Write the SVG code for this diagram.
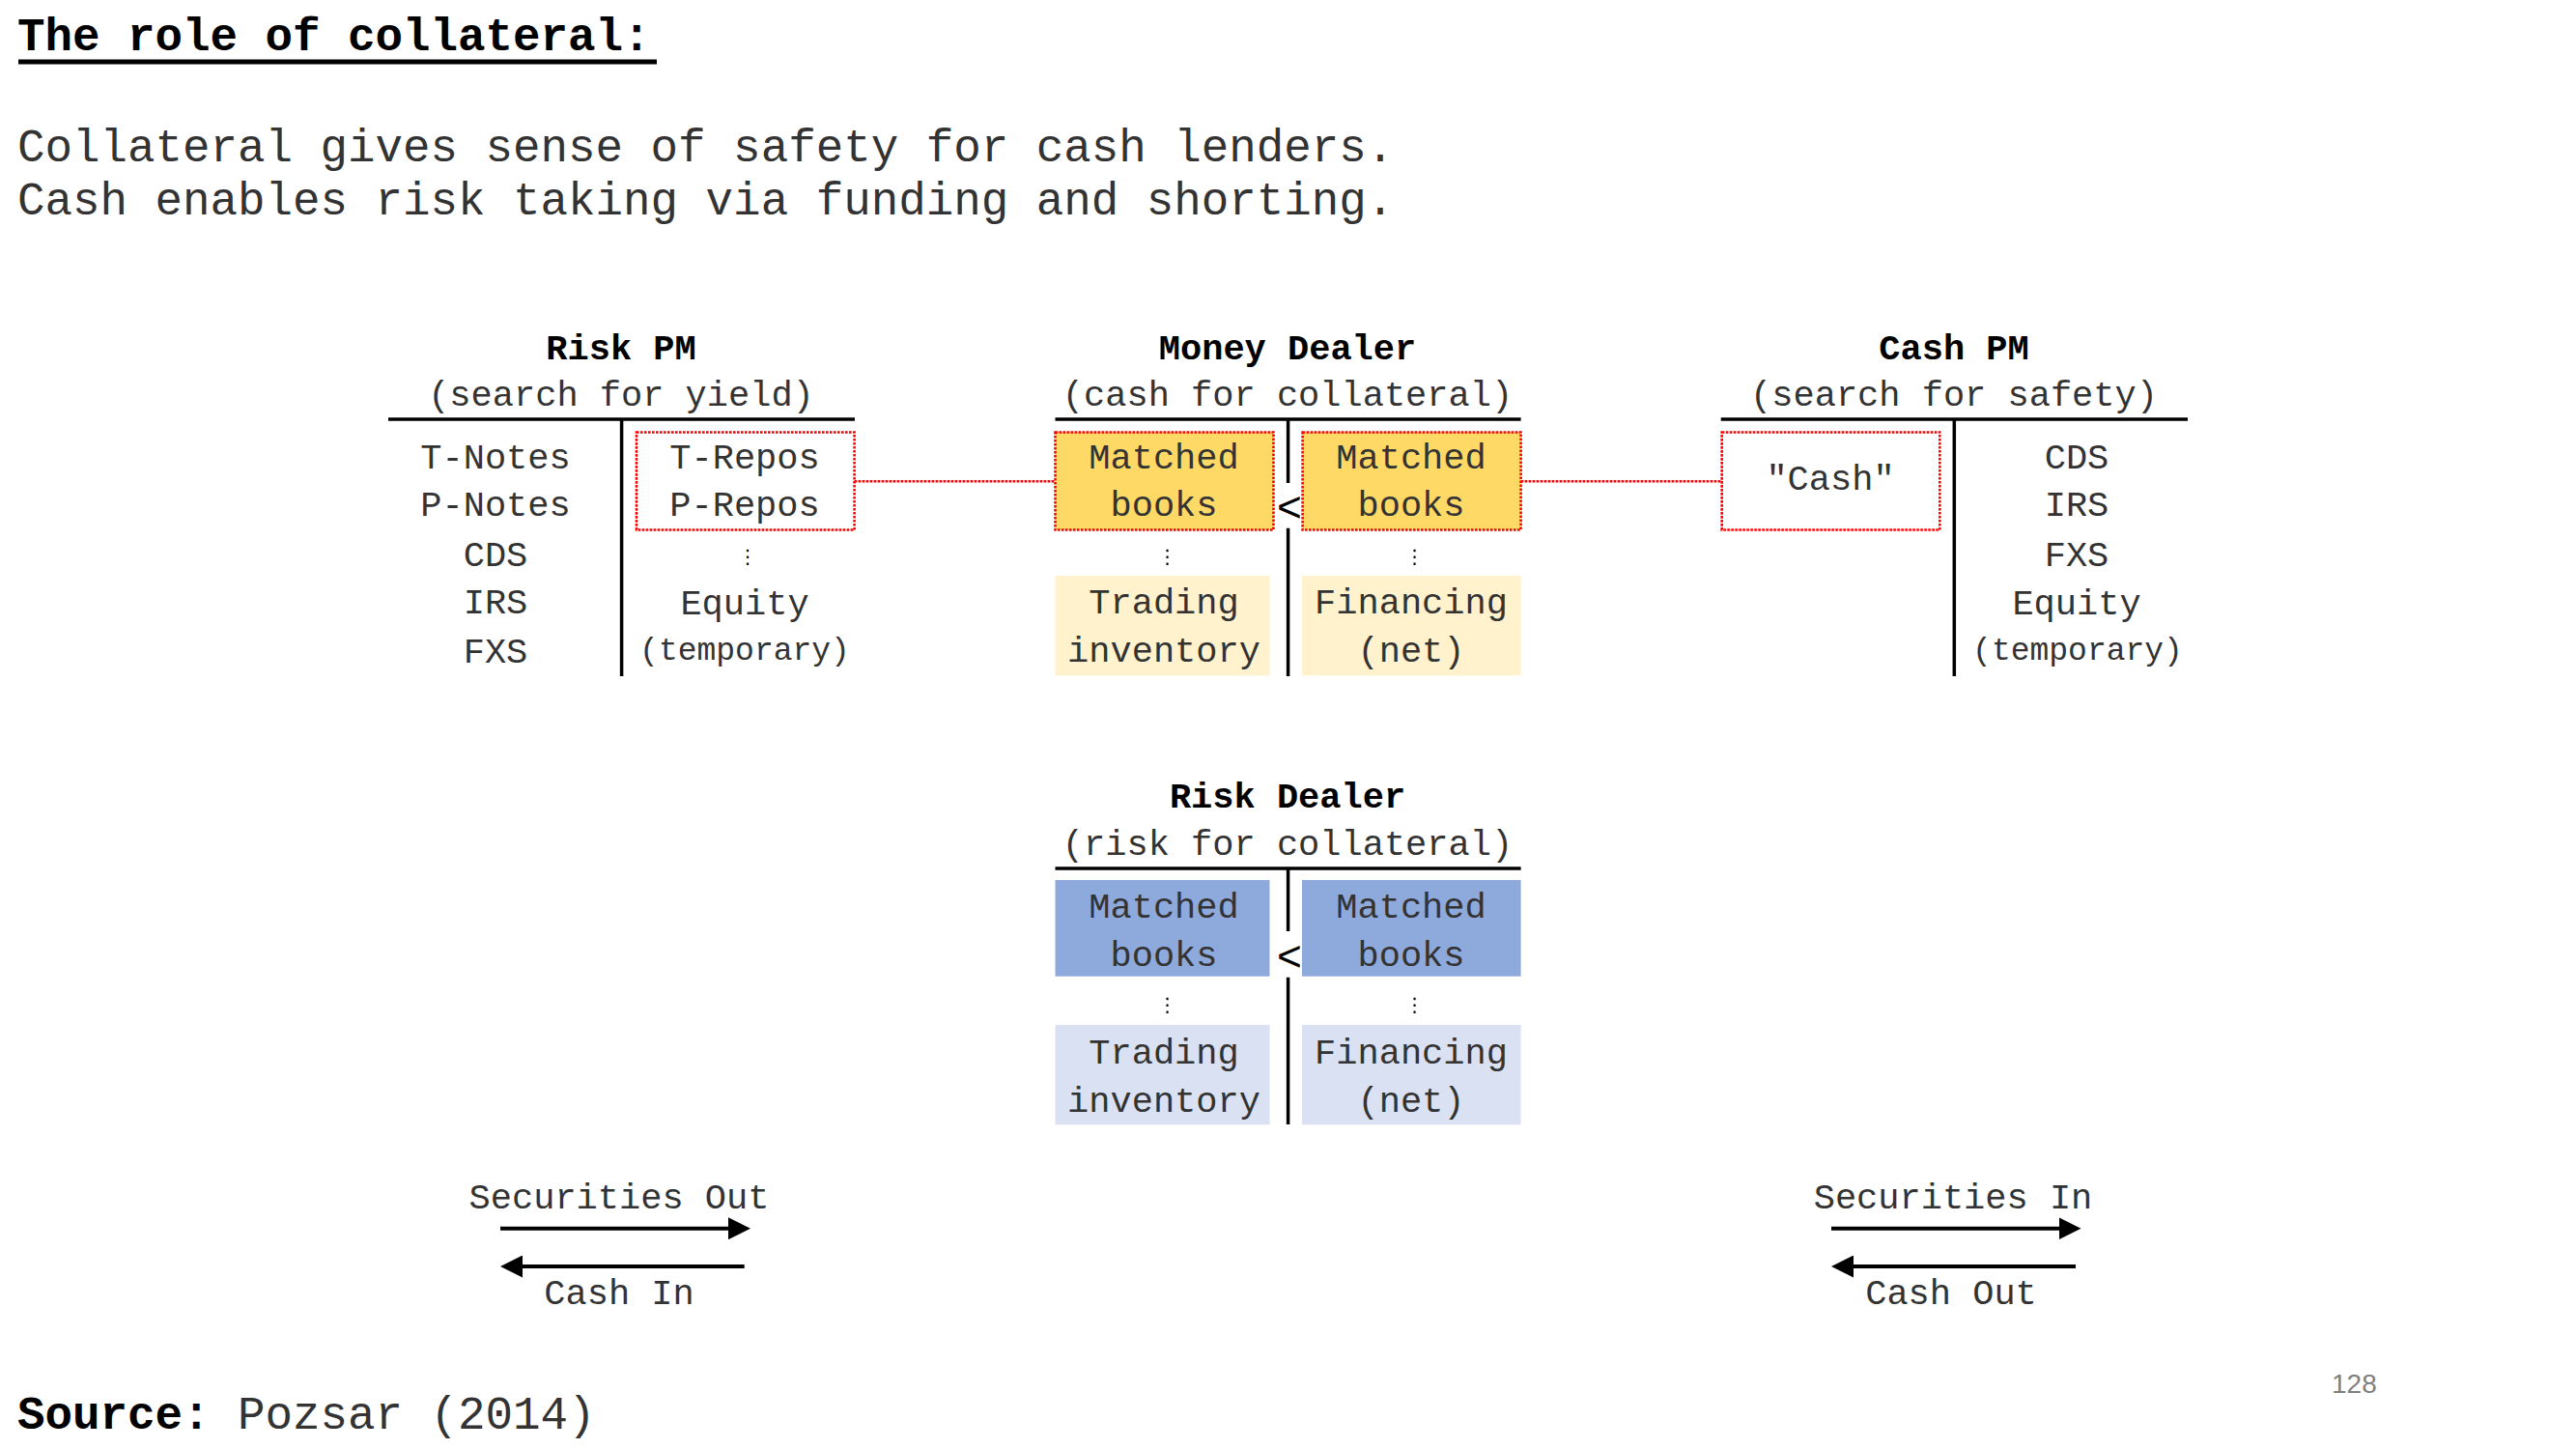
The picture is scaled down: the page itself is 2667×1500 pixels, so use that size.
<svg xmlns="http://www.w3.org/2000/svg" width="2667" height="1500" viewBox="0 0 2667 1500">
<defs>
<style>
text{font-family:"Liberation Mono","DejaVu Sans Mono",monospace;fill:#333}
.big{font-size:47.5px}
.b{font-weight:bold;fill:#000}
.t{font-size:37px;text-anchor:middle}
.sm{font-size:33px;text-anchor:middle}
.lt{font-size:44px;text-anchor:middle;fill:#000}
.dots{font-family:"DejaVu Sans","DejaVu Sans Mono",sans-serif;font-size:20px;text-anchor:middle;fill:#000}
.rule{stroke:#000;stroke-width:3.5;fill:none}
.red{stroke:#ff0000;stroke-width:2.6;stroke-dasharray:2.6 1.4;fill:none}
.arr{stroke:#000;stroke-width:4;fill:none;marker-end:url(#head)}
.gold{fill:#FFD966}
.lgold{fill:#FFF2CC}
.blue{fill:#8EA9DB}
.lblue{fill:#D9E1F2}
</style>
<marker id="head" viewBox="0 0 23 23" refX="1" refY="11.5" markerWidth="23" markerHeight="23" markerUnits="userSpaceOnUse" orient="auto">
<path d="M0,0 L23,11.5 L0,23 z" fill="#000"/>
</marker>
</defs>
<rect width="2667" height="1500" fill="#fff"/>

<g id="header">
<text class="big b" x="18" y="52">The role of collateral:</text>
<line x1="19" y1="64" x2="680" y2="64" stroke="#000" stroke-width="5"/>
<text class="big" x="18" y="167">Collateral gives sense of safety for cash lenders.</text>
<text class="big" x="18" y="222">Cash enables risk taking via funding and shorting.</text>
</g>

<g id="risk-pm">
<text class="t b" x="643" y="372">Risk PM</text>
<text class="t" x="643" y="420">(search for yield)</text>
<line class="rule" x1="402" y1="434" x2="885" y2="434"/>
<line class="rule" x1="643.6" y1="434" x2="643.6" y2="700"/>
<text class="t" x="513" y="485">T-Notes</text>
<text class="t" x="513" y="534">P-Notes</text>
<text class="t" x="513" y="586">CDS</text>
<text class="t" x="513" y="635">IRS</text>
<text class="t" x="513" y="686">FXS</text>
<rect class="red" x="659" y="447.5" width="225.6" height="101"/>
<text class="t" x="771" y="485">T-Repos</text>
<text class="t" x="771" y="534">P-Repos</text>
<text class="dots" x="774" y="583">⋮</text>
<text class="t" x="771" y="636">Equity</text>
<text class="sm" x="771" y="683">(temporary)</text>
</g>

<g id="money-dealer">
<text class="t b" x="1333" y="372">Money Dealer</text>
<text class="t" x="1333" y="420">(cash for collateral)</text>
<line class="rule" x1="1092.5" y1="434" x2="1574.6" y2="434"/>
<line class="rule" x1="1333.6" y1="434" x2="1333.6" y2="500"/>
<line class="rule" x1="1333.6" y1="546.7" x2="1333.6" y2="700"/>
<rect class="gold" x="1092.5" y="447.5" width="226" height="101"/>
<rect class="red" x="1092.5" y="447.5" width="226" height="101"/>
<rect class="gold" x="1348.6" y="447.5" width="226" height="101"/>
<rect class="red" x="1348.6" y="447.5" width="226" height="101"/>
<text class="t" x="1205" y="485">Matched</text>
<text class="t" x="1205" y="534">books</text>
<text class="t" x="1461" y="485">Matched</text>
<text class="t" x="1461" y="534">books</text>
<text class="lt" x="1335" y="540">&lt;</text>
<text class="dots" x="1208.6" y="583">⋮</text>
<text class="dots" x="1464.6" y="583">⋮</text>
<rect class="lgold" x="1092.5" y="596" width="222" height="103.3"/>
<rect class="lgold" x="1348" y="596" width="226.6" height="103.3"/>
<text class="t" x="1205" y="635">Trading</text>
<text class="t" x="1205" y="685">inventory</text>
<text class="t" x="1461" y="635">Financing</text>
<text class="t" x="1461" y="685">(net)</text>
</g>

<g id="cash-pm">
<text class="t b" x="2023" y="372">Cash PM</text>
<text class="t" x="2023" y="420">(search for safety)</text>
<line class="rule" x1="1781.7" y1="434" x2="2265" y2="434"/>
<line class="rule" x1="2023.3" y1="434" x2="2023.3" y2="700"/>
<rect class="red" x="1782.7" y="447.5" width="225.6" height="101"/>
<text class="t" x="1895" y="507">"Cash"</text>
<text class="t" x="2150" y="485">CDS</text>
<text class="t" x="2150" y="534">IRS</text>
<text class="t" x="2150" y="586">FXS</text>
<text class="t" x="2150" y="636">Equity</text>
<text class="sm" x="2151" y="683">(temporary)</text>
</g>

<g id="risk-dealer">
<text class="t b" x="1333" y="836">Risk Dealer</text>
<text class="t" x="1333" y="885">(risk for collateral)</text>
<line class="rule" x1="1092.5" y1="899" x2="1574.6" y2="899"/>
<line class="rule" x1="1333.6" y1="899" x2="1333.6" y2="964"/>
<line class="rule" x1="1333.6" y1="1011.7" x2="1333.6" y2="1164"/>
<rect class="blue" x="1092.5" y="911" width="222" height="99.7"/>
<rect class="blue" x="1348" y="911" width="226.6" height="99.7"/>
<text class="t" x="1205" y="950">Matched</text>
<text class="t" x="1205" y="1000">books</text>
<text class="t" x="1461" y="950">Matched</text>
<text class="t" x="1461" y="1000">books</text>
<text class="lt" x="1335" y="1005">&lt;</text>
<text class="dots" x="1208.6" y="1047">⋮</text>
<text class="dots" x="1464.6" y="1047">⋮</text>
<rect class="lblue" x="1092.5" y="1061" width="222" height="103.3"/>
<rect class="lblue" x="1348" y="1061" width="226.6" height="103.3"/>
<text class="t" x="1205" y="1101">Trading</text>
<text class="t" x="1205" y="1151">inventory</text>
<text class="t" x="1461" y="1101">Financing</text>
<text class="t" x="1461" y="1151">(net)</text>
</g>

<g id="flow-labels">
<text class="t" x="641" y="1251">Securities Out</text>
<text class="t" x="641" y="1350">Cash In</text>
<text class="t" x="2022" y="1251">Securities In</text>
<text class="t" x="2020" y="1350">Cash Out</text>
</g>

<g id="connectors">
<line class="red" x1="884.6" y1="498.3" x2="1092.5" y2="498.3"/>
<line class="red" x1="1574.6" y1="498.3" x2="1782.7" y2="498.3"/>
<line class="arr" x1="518" y1="1271.7" x2="755" y2="1271.7"/>
<line class="arr" x1="770.7" y1="1311" x2="540" y2="1311"/>
<line class="arr" x1="1896" y1="1271.7" x2="2132.5" y2="1271.7"/>
<line class="arr" x1="2149" y1="1311" x2="1918" y2="1311"/>
</g>

<g id="footer">
<text class="big" x="18" y="1479"><tspan class="b">Source:</tspan> Pozsar (2014)</text>
<text x="2414" y="1442" style="font-family:'Liberation Sans',Arial,sans-serif;font-size:28px;fill:#7f7f7f">128</text>
</g>
</svg>
